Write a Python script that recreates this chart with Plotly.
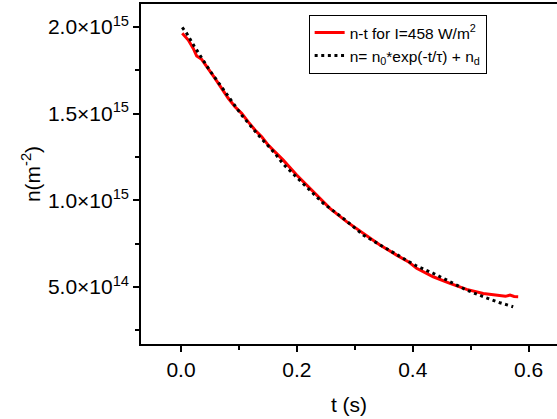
import plotly.graph_objects as go

# Measured curve n-t (t in s, n in units of 1e15 m^-2)
t_meas = [0.0022, 0.0126, 0.0212, 0.0271, 0.0357, 0.0471, 0.0587, 0.0702, 0.0816,
          0.0932, 0.1047, 0.1161, 0.1277, 0.1393, 0.1506, 0.1622, 0.1765, 0.1997,
          0.2283, 0.2571, 0.2859, 0.3146, 0.3434, 0.3722, 0.3922, 0.4067, 0.4354,
          0.4642, 0.4930, 0.5217, 0.5505, 0.5600, 0.5680, 0.5750, 0.5820]
n_meas = [1.964, 1.925, 1.877, 1.833, 1.814, 1.762, 1.704, 1.646, 1.589,
          1.540, 1.502, 1.453, 1.406, 1.367, 1.319, 1.280, 1.232, 1.146,
          1.050, 0.954, 0.877, 0.810, 0.742, 0.684, 0.646, 0.608, 0.559,
          0.521, 0.486, 0.463, 0.449, 0.446, 0.453, 0.445, 0.444]

# Fitted curve n = n0*exp(-t/tau) + nd
t_fit = [0.0022, 0.0098, 0.0224, 0.0357, 0.0483, 0.0759, 0.1047, 0.1334, 0.1622,
         0.1765, 0.2110, 0.2456, 0.2801, 0.3146, 0.3491, 0.3808, 0.4067, 0.4354,
         0.4642, 0.4930, 0.5217, 0.5505, 0.5734]
n_fit = [1.998, 1.964, 1.892, 1.823, 1.756, 1.627, 1.492, 1.377, 1.271,
         1.209, 1.098, 0.983, 0.896, 0.800, 0.732, 0.671, 0.621, 0.579,
         0.530, 0.482, 0.444, 0.409, 0.386]

scale = 1e15
y_tickvals = [5.0e14, 1.0e15, 1.5e15, 2.0e15]
y_ticktext = ["5.0×10<sup>14</sup>", "1.0×10<sup>15</sup>",
              "1.5×10<sup>15</sup>", "2.0×10<sup>15</sup>"]
y_minor = [2.5e14, 7.5e14, 1.25e15, 1.75e15]
x_tickvals = [0.0, 0.2, 0.4, 0.6]
x_ticktext = ["0.0", "0.2", "0.4", "0.6"]
x_minor = [0.1, 0.3, 0.5]

FONT = "Liberation Sans, Arial, sans-serif"

fig = go.Figure()
fig.add_trace(go.Scatter(
    x=t_meas, y=[v * scale for v in n_meas], mode="lines",
    line=dict(color="#ff0000", width=3),
    name="n-t for I=458 W/m<sup>2</sup>"))
fig.add_trace(go.Scatter(
    x=t_fit, y=[v * scale for v in n_fit], mode="lines",
    line=dict(color="black", width=3, dash="3px,3.6px"),
    name="n= n<sub>0</sub>*exp(-t/τ) + n<sub>d</sub>"))

fig.update_layout(
    width=557, height=419,
    margin=dict(l=141, r=0, t=4, b=75, autoexpand=False),
    paper_bgcolor="white", plot_bgcolor="white",
    font=dict(family=FONT, color="black", size=21),
    showlegend=True,
    legend=dict(x=0.403, y=0.968, xanchor="left", yanchor="top",
                bgcolor="white", bordercolor="black", borderwidth=1,
                font=dict(size=15.5, family=FONT), tracegroupgap=0,
                itemwidth=30),
)
fig.update_xaxes(
    range=[-0.069, 0.649], showgrid=False, zeroline=False, automargin=False,
    showline=True, linecolor="black", linewidth=1.5, mirror=True,
    ticks="outside", ticklen=6, tickwidth=1.5, tickcolor="black",
    tickvals=x_tickvals, ticktext=x_ticktext, ticklabelstandoff=0,
    minor=dict(tickvals=x_minor, ticks="outside", ticklen=4, tickwidth=1.5, tickcolor="black"),
    title=dict(text="t (s)", font=dict(size=21), standoff=17),
)
fig.update_yaxes(
    range=[0.171e15, 2.133e15], showgrid=False, zeroline=False, automargin=False,
    showline=True, linecolor="black", linewidth=1.5, mirror=False,
    ticks="outside", ticklen=6, tickwidth=1.5, tickcolor="black",
    tickvals=y_tickvals, ticktext=y_ticktext,
    minor=dict(tickvals=y_minor, ticks="outside", ticklen=4, tickwidth=1.5, tickcolor="black"),
    title=dict(text="n(m<sup>-2</sup>)", font=dict(size=21), standoff=2),
)

fig.write_html("out.html", config={"displayModeBar": False},
               post_script="document.body.style.margin='0';document.body.style.overflow='hidden';")
